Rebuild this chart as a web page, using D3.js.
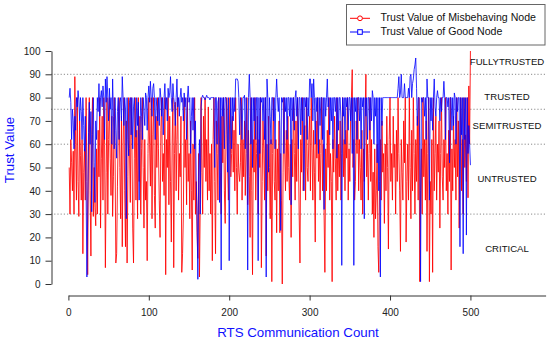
<!DOCTYPE html>
<html>
<head>
<meta charset="utf-8">
<script src="https://cdn.jsdelivr.net/npm/d3@7"></script>
<style>
  body { margin: 0; background: #fff; }
  svg { display: block; font-family: "Liberation Sans", Arial, sans-serif; }
  .axis path, .axis line { stroke: #333; }
  .axis text { font-size: 10px; fill: #222; }
</style>
</head>
<body>
<div id="chart"></div>
<script>
// trust value of the misbehaving node, one value per RTS count (1..500)
const misbehaving = [
  50,30,62,52,40,57,30,89,60,36,80,44,29,70,55,36,62,13,48,58,
  36,80,44,4,60,80,40,12,64,80,29,50,33,25,58,30,66,46,80,24,
  54,72,36,80,60,7,48,80,30,62,80,54,38,72,29,46,80,58,9,13,
  42,66,80,50,28,72,16,60,80,40,16,70,9,46,80,58,35,80,62,24,
  9,54,80,36,66,28,80,44,72,30,58,80,50,24,62,36,44,10,56,80,
  60,42,80,28,64,80,38,24,72,50,80,58,36,20,66,80,44,56,38,80,
  4,62,50,80,34,72,44,18,60,80,7,56,78,40,62,80,36,56,46,72,
  5,13,30,80,50,62,34,80,44,56,28,70,40,6,60,36,80,30,44,22,
  11,56,3,34,80,48,30,72,50,80,44,62,36,76,40,56,30,60,10,62,
  80,44,13,70,56,36,80,60,48,30,72,52,80,40,26,64,80,50,36,60,
  80,46,56,72,48,66,40,80,50,30,60,48,44,52,80,36,62,46,70,38,
  56,80,34,66,46,20,80,40,4,62,48,80,36,56,72,30,62,50,80,7,
  44,70,58,36,80,12,60,40,72,50,28,62,1,56,80,44,36,62,22,58,
  40,70,22,56,36,0,48,80,58,40,66,44,72,50,36,60,20,62,46,80,
  56,36,70,44,80,58,30,9,62,48,80,40,56,68,36,80,50,44,62,72,
  40,80,58,36,66,48,18,70,54,80,44,62,36,56,80,40,60,30,5,58,
  40,66,50,80,36,56,44,1,62,48,72,54,36,80,40,60,46,70,36,56,
  80,46,62,40,66,54,80,36,58,44,72,80,92,50,62,36,44,70,56,80,
  40,62,50,36,66,30,58,44,72,90,46,60,36,56,80,44,62,30,48,20,
  58,28,40,60,16,5,44,62,36,70,48,56,26,60,40,72,50,15,62,80,
  44,56,36,72,50,60,30,66,44,80,56,40,14,62,48,36,70,52,80,18,
  44,60,36,80,50,28,66,40,80,56,30,62,44,72,36,80,1,40,58,30,
  80,46,62,36,70,14,56,80,1,44,30,62,5,80,40,56,72,36,60,48,
  70,24,56,80,46,36,62,50,80,40,56,30,66,44,80,6,58,40,72,50,
  62,36,80,46,70,24,56,80,40,62,30,80,50,64,44,80,37,85,60,100
];

// trust value of the good node
const good = [
  80,84,78,62,75,70,58,72,66,80,76,83,79,70,80,74,62,80,68,57,
  72,40,3,30,65,78,60,74,31,64,80,52,35,70,62,80,74,86,72,80,
  83,76,85,80,62,88,78,89,80,70,84,75,80,60,88,72,58,80,66,54,
  74,80,62,78,80,70,89,80,68,80,75,28,80,62,55,78,80,64,80,58,
  76,80,70,63,80,68,78,36,65,80,72,62,80,74,68,82,80,66,80,85,
  78,87,80,72,84,86,80,62,80,76,70,80,68,84,80,72,80,64,80,86,
  75,80,70,84,80,82,89,80,74,86,80,77,68,80,88,76,80,72,80,84,
  78,80,70,82,76,80,62,80,85,78,80,56,72,80,66,80,58,70,44,30,
  2,46,62,30,76,80,81,80,80,79,80,81,80,80,80,79,80,80,80,80,
  80,50,80,80,60,78,80,35,80,6,80,72,80,58,80,80,76,48,80,10,
  62,80,58,80,70,80,74,88,88,88,87,80,64,80,76,62,80,80,81,58,
  80,72,6,80,90,80,60,80,50,80,70,80,62,80,80,10,80,56,80,78,
  80,70,80,62,80,3,88,80,48,80,72,60,80,80,70,80,58,80,88,80,
  74,80,66,23,80,78,80,56,80,74,80,62,80,80,72,80,34,80,70,80,
  66,80,83,72,80,58,80,80,64,80,70,80,40,80,76,80,62,80,72,88,
  88,80,86,70,88,80,60,80,74,80,56,80,68,80,80,62,80,32,80,72,
  80,88,76,80,64,80,70,80,58,80,80,74,80,54,80,66,80,80,70,8,
  80,72,80,60,80,76,80,66,80,80,70,80,56,80,8,80,74,80,62,80,
  80,70,80,58,80,76,80,28,80,72,80,62,80,80,66,80,70,83,80,60,
  80,72,80,52,80,40,80,3,80,68,80,80,80,80,80,80,80,80,80,80,
  80,80,80,80,80,80,80,80,80,84,89,80,82,90,80,80,80,86,80,80,
  80,80,84,80,89,90,80,86,88,92,94,97,84,68,80,80,60,1,80,78,
  80,80,72,80,62,88,80,80,36,80,70,80,66,80,88,76,72,80,83,80,
  80,70,80,74,80,80,87,80,62,80,80,76,80,52,80,80,66,80,68,82,
  80,60,80,74,80,80,16,80,64,80,13,80,62,80,21,80,56,68,60,51
];

const xTicks = [0, 100, 200, 300, 400, 500];
const yTicks = [0, 10, 20, 30, 40, 50, 60, 70, 80, 90, 100];
const thresholds = [90, 75, 60, 30];
const zones = [
  { label: "FULLYTRUSTED", value: 95 },
  { label: "TRUSTED", value: 80 },
  { label: "SEMITRUSTED", value: 67.5 },
  { label: "UNTRUSTED", value: 45 },
  { label: "CRITICAL", value: 15 }
];
const seriesNames = ["Trust Value of Misbehaving Node", "Trust Value of Good Node"];

const width = 550, height = 345;
const svg = d3.select("#chart").append("svg")
  .attr("width", width)
  .attr("height", height);

const x = d3.scaleLinear().domain([0, 593.5]).range([68.4, 545.6]);
const y = d3.scaleLinear().domain([0, 100]).range([284, 51]);

// dotted threshold lines
svg.selectAll(".thr")
  .data(thresholds)
  .join("line")
  .attr("class", "thr")
  .attr("x1", 51).attr("x2", 546)
  .attr("y1", d => y(d)).attr("y2", d => y(d))
  .attr("stroke", "#8a8a8a")
  .attr("stroke-width", 1)
  .attr("stroke-dasharray", "1.2,2");

// axes
svg.append("g")
  .attr("class", "axis")
  .attr("transform", "translate(0,295.5)")
  .call(d3.axisBottom(x).tickValues(xTicks).tickSize(5).tickSizeOuter(0).tickPadding(8))
  .call(g => g.selectAll("text").attr("font-family", null));

svg.append("g")
  .attr("class", "axis")
  .attr("transform", "translate(51.5,0)")
  .call(d3.axisLeft(y).tickValues(yTicks).tickSize(6).tickSizeOuter(0).tickPadding(5))
  .call(g => g.selectAll("text").attr("font-family", null));

// series lines, red first then blue as in the original plot
const line = d3.line()
  .x((d, i) => x(i + 1))
  .y(d => y(d));

svg.append("path")
  .datum(misbehaving)
  .attr("fill", "none")
  .attr("stroke", "#ff0000")
  .attr("stroke-opacity", 0.85)
  .attr("stroke-width", 1)
  .attr("d", line);

svg.append("path")
  .datum(good)
  .attr("fill", "none")
  .attr("stroke", "#0000ff")
  .attr("stroke-opacity", 0.8)
  .attr("stroke-width", 1)
  .attr("d", line);

// zone labels
svg.selectAll(".zone")
  .data(zones)
  .join("text")
  .attr("class", "zone")
  .attr("x", 507)
  .attr("y", d => y(d.value))
  .attr("text-anchor", "middle")
  .attr("dominant-baseline", "middle")
  .attr("font-size", "9.6px")
  .attr("fill", "#111")
  .text(d => d.label);

// axis titles
svg.append("text")
  .attr("x", 298).attr("y", 333)
  .attr("text-anchor", "middle")
  .attr("dominant-baseline", "middle")
  .attr("font-size", "13.3px")
  .attr("fill", "#1010ff")
  .text("RTS Communication Count");

svg.append("text")
  .attr("transform", "translate(10,150) rotate(-90)")
  .attr("text-anchor", "middle")
  .attr("dominant-baseline", "middle")
  .attr("font-size", "13.3px")
  .attr("fill", "#1010ff")
  .text("Trust Value");

// legend
const legend = svg.append("g").attr("transform", "translate(346.5,4.5)");
legend.append("rect")
  .attr("width", 198.5).attr("height", 40.5)
  .attr("fill", "#fff")
  .attr("stroke", "#666");

const colors = ["#ff0000", "#0000ff"];
const rows = legend.selectAll(".row")
  .data(seriesNames)
  .join("g")
  .attr("class", "row")
  .attr("transform", (d, i) => `translate(0,${13.8 + i * 13.7})`);

rows.append("line")
  .attr("x1", 3.5).attr("x2", 23.5)
  .attr("stroke", (d, i) => colors[i]);

rows.filter((d, i) => i === 0).append("circle")
  .attr("cx", 13.5).attr("r", 2.4)
  .attr("fill", "#fff")
  .attr("stroke", colors[0]);

rows.filter((d, i) => i === 1).append("rect")
  .attr("x", 11.2).attr("y", -2.3)
  .attr("width", 4.6).attr("height", 4.6)
  .attr("fill", "#fff")
  .attr("stroke", colors[1]);

rows.append("text")
  .attr("x", 34)
  .attr("dominant-baseline", "middle")
  .attr("font-size", "10.6px")
  .attr("fill", "#111")
  .text(d => d);
</script>
</body>
</html>
